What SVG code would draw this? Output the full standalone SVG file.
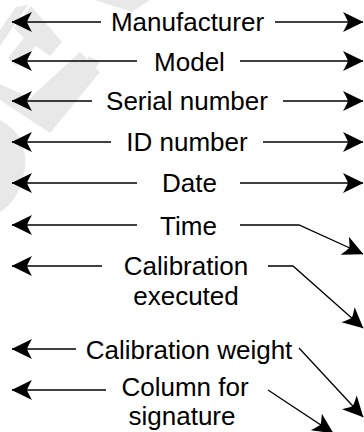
<svg xmlns="http://www.w3.org/2000/svg" width="364" height="432" viewBox="0 0 364 432">
<defs>
<marker id="ah" viewBox="-21 -11 22 22" refX="0" refY="0" markerWidth="22" markerHeight="22" markerUnits="userSpaceOnUse" orient="auto">
<path d="M0.5,0 L-20,-10 Q-16,-3 -15,0 Q-16,3 -20,10 Z" fill="#000"/>
</marker>
</defs>
<style>
text{font-family:"Liberation Sans",Arial,sans-serif;font-size:26px;fill:#000;text-anchor:middle}
.c path{fill:none;stroke:#000;stroke-width:1.3;marker-end:url(#ah)}
.wm{fill:#e8e8e8}
</style>
<rect width="364" height="432" fill="#fff"/>
<g id="watermark" class="wm">
<polygon points="16,7 28,5 0,46 0,30"/>
<polygon points="31,6 62,42 50,56 36,46 16,66 8,58 24,38 14,28"/>
<polygon points="80,52 100,72 50,133 0,100 0,84 30,98"/>
<path d="M0,120 Q28,135 25,168 Q20,200 0,212 Z"/>
<polygon points="95,0 150,0 132,12"/>
<polygon points="88,56 100,62 90,76"/>
</g>
<g id="n-manufacturer"><text x="187.5" y="31">Manufacturer</text></g>
<g id="n-model"><text x="189.5" y="71">Model</text></g>
<g id="n-serial"><text x="187" y="110">Serial number</text></g>
<g id="n-id"><text x="187" y="151">ID number</text></g>
<g id="n-date"><text x="189.5" y="192">Date</text></g>
<g id="n-time"><text x="188.5" y="235">Time</text></g>
<g id="n-calexec"><text x="186" y="275">Calibration</text><text x="186" y="305">executed</text></g>
<g id="n-calweight"><text x="189" y="359">Calibration weight</text></g>
<g id="n-column"><text x="185" y="396">Column for</text><text x="182" y="425">signature</text></g>
<g class="c" id="connectors">
<path d="M101,22 H12"/><path d="M275,22 H363"/>
<path d="M137,61 H12"/><path d="M240,61 H363"/>
<path d="M92,101 H12"/><path d="M283,101 H363"/>
<path d="M111,142 H12"/><path d="M263,142 H363"/>
<path d="M137,183 H12"/><path d="M240,183 H363"/>
<path d="M137,225 H12"/><path d="M240,225 H299 L363,254"/>
<path d="M102,266 H12"/><path d="M268,266 H293 L363,328"/>
<path d="M76,349 H12"/><path d="M299,348 L363,417"/>
<path d="M106,390 H12"/><path d="M268,390 L333,433"/>
</g>
</svg>
